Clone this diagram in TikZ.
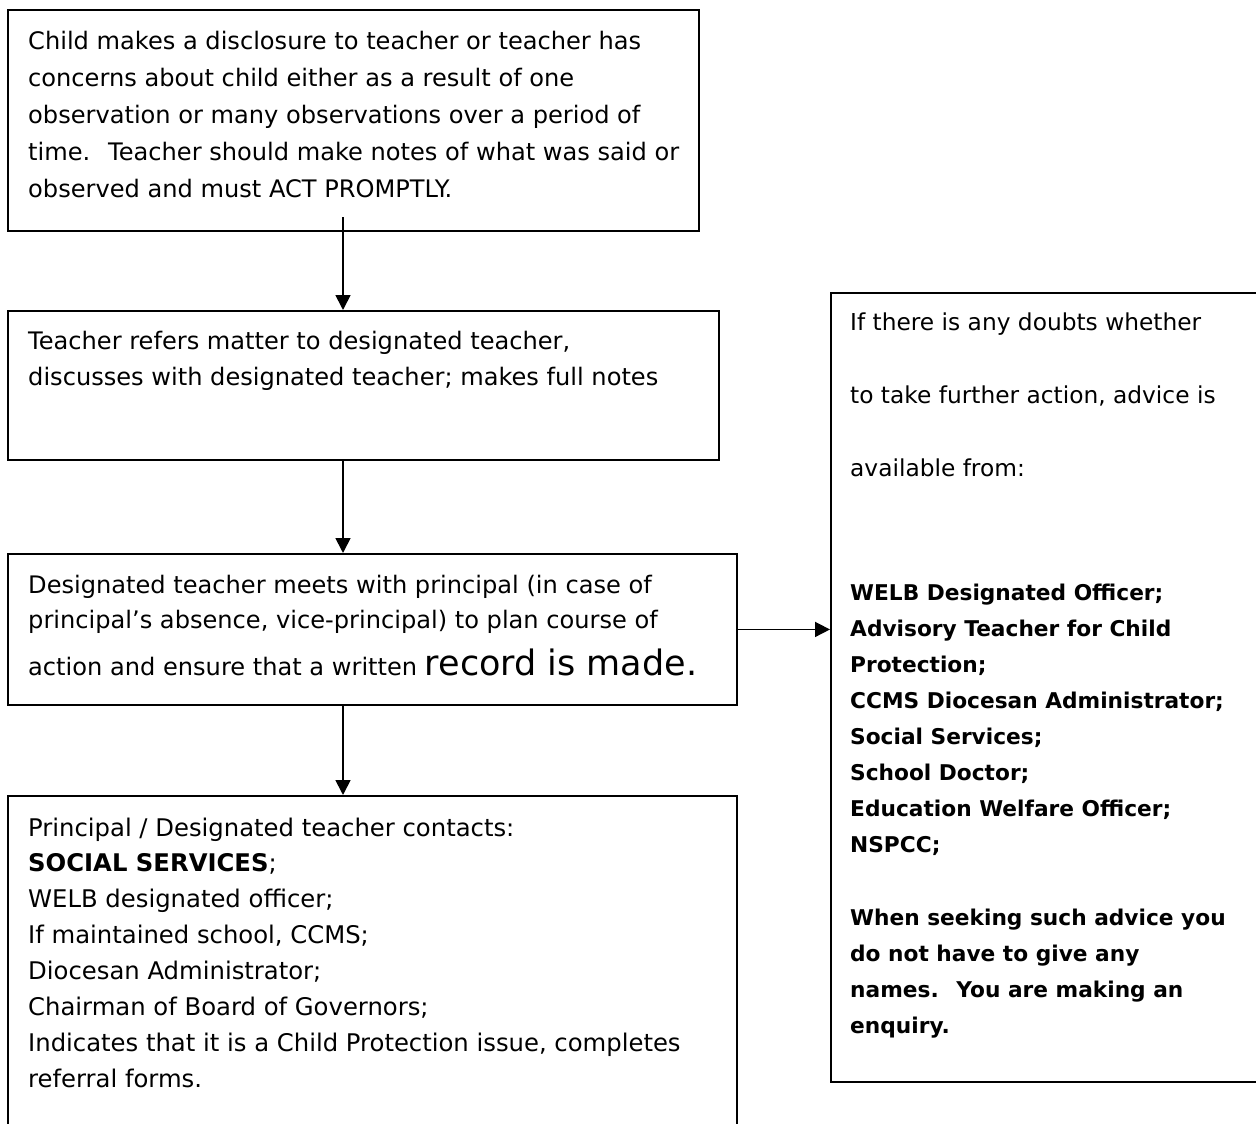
\documentclass[tikz,border=0pt]{standalone}
\usepackage{fontspec}
\setmainfont{DejaVu Sans}
\usetikzlibrary{arrows.meta}
\newcommand{\blk}[3]{\parbox[t]{800pt}{\fontsize{#1}{#2}\selectfont\raggedright #3}}
\begin{document}
\begin{tikzpicture}[x=1pt,y=-1pt,
  box/.style={draw,line width=1.9pt,rectangle,inner sep=0pt,anchor=north west},
  txt/.style={anchor=base west,inner sep=0pt},
  arr/.style={line width=1.7pt,-{Triangle[width=15pt,length=15pt]}}]
\useasboundingbox[fill=white] (0,0) rectangle (1256,1124);
% boxes
\node[box,minimum width=691pt,minimum height=221pt] (b1) at (7,9) {};
\node[box,minimum width=711pt,minimum height=149pt] (b2) at (7,310) {};
\node[box,minimum width=729pt,minimum height=151pt] (b3) at (7,553) {};
\node[box,minimum width=729pt,minimum height=420pt] (b4) at (7,795) {};
\node[box,minimum width=460pt,minimum height=789pt] (r) at (830,292) {};
% texts
\node[txt] (t1) at (28,50) {\blk{24.1}{36.8}{Child makes a disclosure to teacher or teacher has\\
concerns about child either as a result of one\\
observation or many observations over a period of\\
time.~ Teacher should make notes of what was said or\\
observed and must ACT PROMPTLY.}};
\node[txt] (t2) at (28,349) {\blk{24.1}{36}{Teacher refers matter to designated teacher,\\
discusses with designated teacher; makes full notes}};
\node[txt] (t3) at (28,593) {\blk{24.1}{35}{Designated teacher meets with principal (in case of\\
principal’s absence, vice-principal) to plan course of\\[12pt]
action and ensure that a written {\fontsize{35}{40}\selectfont record is made.}}};
\node[txt] (t4) at (28,836) {\blk{24.3}{35.9}{Principal / Designated teacher contacts:\\
\textbf{SOCIAL SERVICES};\\
WELB designated officer;\\
If maintained school, CCMS;\\
Diocesan Administrator;\\
Chairman of Board of Governors;\\
Indicates that it is a Child Protection issue, completes\\
referral forms.}};
\node[txt] (r1) at (850,330) {\blk{23.3}{73}{If there is any doubts whether\\
to take further action, advice is\\
available from:}};
\node[txt] (r2) at (850,600) {\blk{21.7}{36}{\bfseries WELB Designated Officer;\\
Advisory Teacher for Child\\
Protection;\\
CCMS Diocesan Administrator;\\
Social Services;\\
School Doctor;\\
Education Welfare Officer;\\
NSPCC;}};
\node[txt] (r3) at (850,925) {\blk{21.7}{36}{\bfseries When seeking such advice you\\
do not have to give any\\
names.~ You are making an\\
enquiry.}};
% connectors
\coordinate (s1) at (343,217);
\draw[arr] (s1) -- (s1 |- b2.north);
\draw[arr] (s1 |- b2.south) -- (s1 |- b3.north);
\draw[arr] (s1 |- b3.south) -- (s1 |- b4.north);
\draw[arr] (b3.east) -- (b3.east -| r.west);
\end{tikzpicture}
\end{document}
